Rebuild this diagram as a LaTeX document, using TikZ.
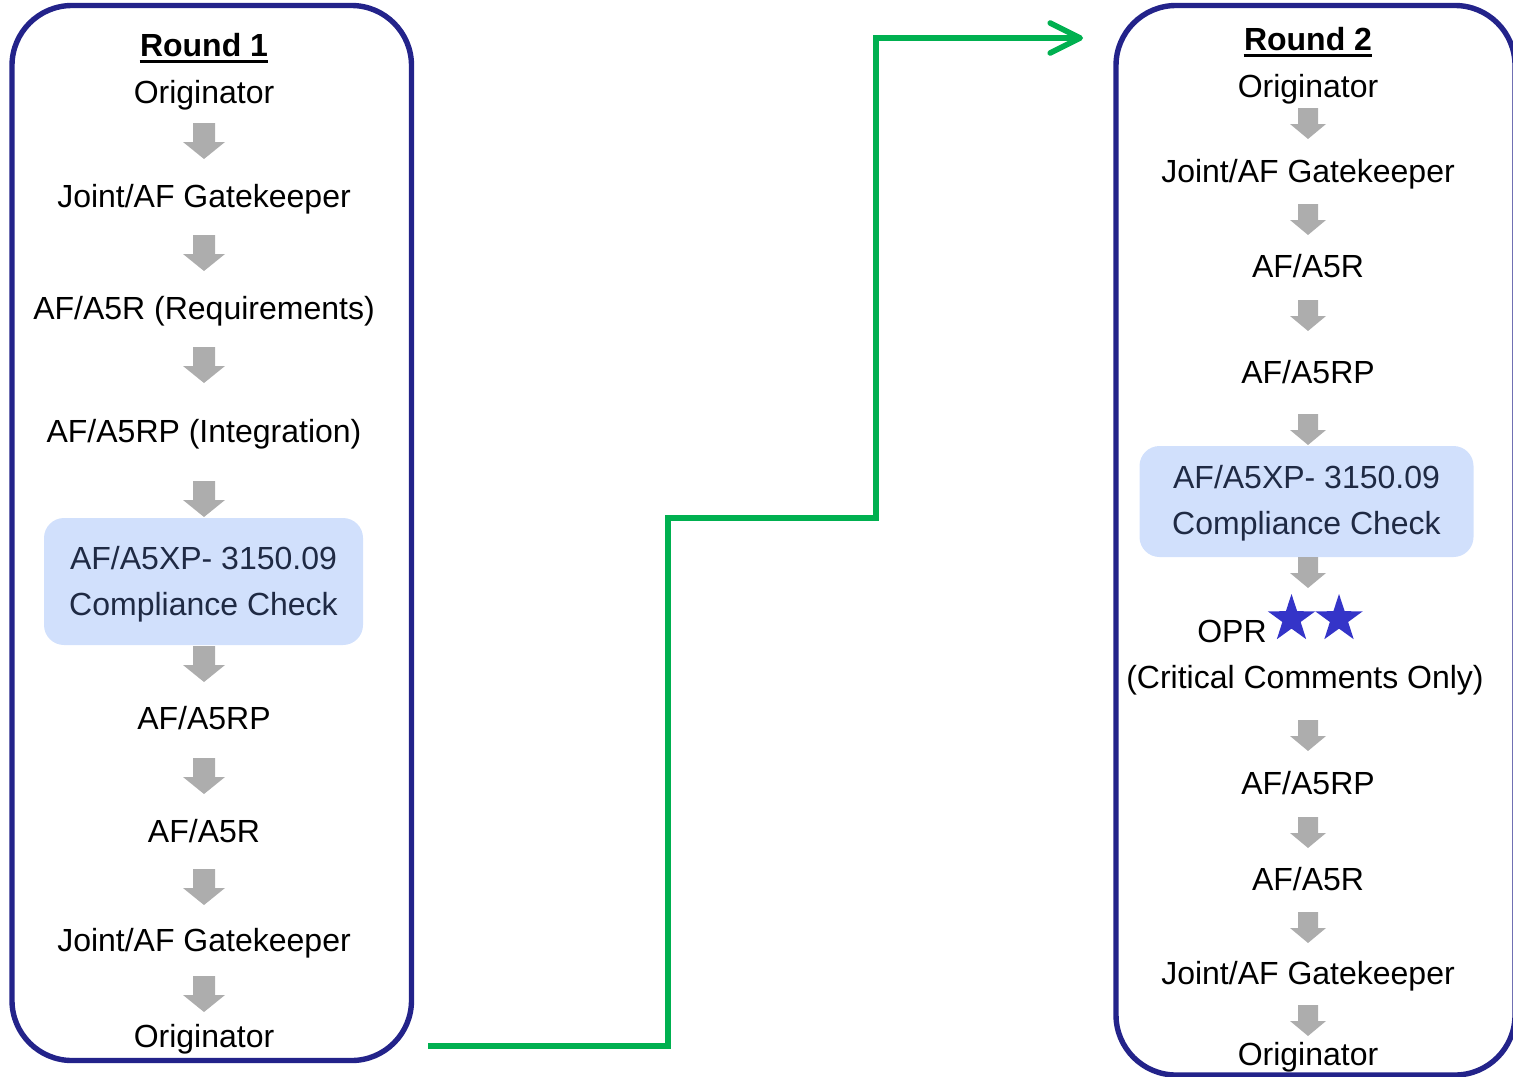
\documentclass[tikz,border=0pt]{standalone}
\usepackage{fontspec}
\setmainfont{Liberation Sans}
\usetikzlibrary{arrows.meta,shapes.geometric}
\definecolor{framenavy}{HTML}{23238A}
\definecolor{stepgray}{HTML}{ADADAD}
\definecolor{checkblue}{HTML}{D1E0FC}
\definecolor{checktext}{HTML}{1F2A44}
\definecolor{flowgreen}{HTML}{00B050}
\definecolor{starblue}{HTML}{3434C8}
\tikzset{
  lbl/.style={anchor=base,inner sep=0pt,font=\fontsize{16}{19}\selectfont},
  roundbox/.style={draw=framenavy,line width=2.7pt,rounded corners=30pt},
  checkbox/.style={fill=checkblue,rounded corners=10pt,text=checktext,align=center,
    inner sep=0pt,font=\fontsize{16}{23}\selectfont},
  flow/.style={draw=flowgreen,line width=2.8pt,-{Straight Barb[length=15pt,width=15pt,round]}},
  oprstar/.style={star,star points=5,star point ratio=2.6,fill=starblue,
    minimum size=25pt,inner sep=0pt},
  uline/.style={line width=1.4pt}
}
\begin{document}
\begin{tikzpicture}[x=0.5pt,y=-0.5pt]
\useasboundingbox (0,0) rectangle (1513,1076);
\clip (0,0) rectangle (1513,1076);
% frames
\draw[roundbox] (12,5.5) rectangle (411.5,1060.5);
\draw[roundbox] (1116,5.5) rectangle (1515,1075);
% round 1
\node[lbl,font=\fontsize{16}{19}\selectfont\bfseries](R1) at (204,56){Round 1};
\draw[uline] ([yshift=-2.8pt]R1.base west) -- ([yshift=-2.8pt]R1.base east);
\node[lbl](L1) at (204,103){Originator};
\node[lbl](L2) at (204,207){Joint/AF Gatekeeper};
\node[lbl](L3) at (204,319){AF/A5R (Requirements)};
\node[lbl](L4) at (204,442){AF/A5RP (Integration)};
\node[checkbox,minimum width=159.5pt,minimum height=63.5pt](C1) at (203.5,581.5){\rule{0pt}{14.7pt}AF/A5XP- 3150.09\\Compliance Check};
\node[lbl](L5) at (204,729){AF/A5RP};
\node[lbl](L6) at (204,842){AF/A5R};
\node[lbl](L7) at (204,951){Joint/AF Gatekeeper};
\node[lbl](L8) at (204,1047){Originator};
\foreach \t in {123,235,347,481,646,758,869,976}
  \fill[stepgray] (193,\t) -- (215,\t) -- (215,\t+19) -- (225,\t+19) -- (204,\t+36) -- (183,\t+19) -- (193,\t+19) -- cycle;
% round 2
\node[lbl,font=\fontsize{16}{19}\selectfont\bfseries](R2) at (1308,50){Round 2};
\draw[uline] ([yshift=-2.8pt]R2.base west) -- ([yshift=-2.8pt]R2.base east);
\node[lbl](M1) at (1308,97){Originator};
\node[lbl](M2) at (1308,182){Joint/AF Gatekeeper};
\node[lbl](M3) at (1308,277){AF/A5R};
\node[lbl](M4) at (1308,383){AF/A5RP};
\node[checkbox,minimum width=167pt,minimum height=55.5pt](C2) at (1306.5,501.5){\rule{0pt}{13.7pt}AF/A5XP- 3150.09\\Compliance Check};
\node[lbl](OPR) at (1232,642){OPR};
\node[oprstar](S1) at (1291.5,619){};
\node[oprstar](S2) at (1339,619){};
\node[lbl](M5) at (1305,688){(Critical Comments Only)};
\node[lbl](M6) at (1308,794){AF/A5RP};
\node[lbl](M7) at (1308,890){AF/A5R};
\node[lbl](M8) at (1308,984){Joint/AF Gatekeeper};
\node[lbl](M9) at (1308,1065){Originator};
\foreach \t in {108,204,300,414,557,720,817,912,1005}
  \fill[stepgray] (1298,\t) -- (1318,\t) -- (1318,\t+16) -- (1326,\t+16) -- (1308,\t+31) -- (1290,\t+16) -- (1298,\t+16) -- cycle;
% hand-over
\coordinate (G0) at (428,1046);
\coordinate (G1) at (1083,38);
\draw[flow] (G0) -| (668,518) -| (876,38) -- (G1);
\end{tikzpicture}
\end{document}
